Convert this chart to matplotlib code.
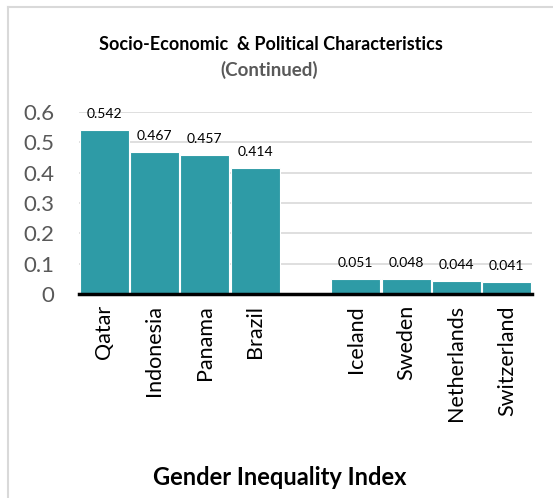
import numpy as np
import matplotlib.pyplot as plt
from matplotlib.lines import Line2D

plt.rcParams['font.family'] = ['Lato', 'DejaVu Sans']

# ── data ──────────────────────────────────────────────────────────────────────
countries = ["Qatar", "Indonesia", "Panama", "Brazil", "",
             "Iceland", "Sweden", "Netherlands", "Switzerland"]
gii = [0.542, 0.467, 0.457, 0.414, None, 0.051, 0.048, 0.044, 0.041]
yticks = [0, 0.1, 0.2, 0.3, 0.4, 0.5, 0.6]

BAR_COLOR = "#2E9BA6"
GRID_COLOR = "#D9D9D9"
TICK_COLOR = "#595959"

fig = plt.figure(figsize=(5.53, 4.98), dpi=100)
ax = fig.add_axes([79 / 553, 204 / 498, 453 / 553, 182 / 498])

x = np.arange(len(countries))
vals = [v if v is not None else 0 for v in gii]
bars = ax.bar(x, vals, width=0.97, color=BAR_COLOR, edgecolor="white", linewidth=0.8, zorder=2)
for xi, v in zip(x, gii):
    if v is None:
        continue
    ax.annotate(f"{v:.3f}", (xi, v), xytext=(0, 11.5), textcoords="offset points",
                ha="center", va="center", fontsize=10, color="black", zorder=3)

ax.set_xlim(-0.5, len(countries) - 0.5)
ax.set_ylim(0, 0.6)
ax.set_yticks(yticks)
ax.set_yticklabels([f"{t:g}" for t in yticks], fontsize=16, color=TICK_COLOR)
ax.set_xticks(x)
ax.set_xticklabels(countries, rotation=90, fontsize=15.5, color="black")
ax.tick_params(axis="y", length=0, pad=18)
ax.tick_params(axis="x", length=0, pad=8)
ax.grid(axis="y", color=GRID_COLOR, linewidth=1.2, zorder=0)
ax.set_axisbelow(True)
for s in ["top", "right", "left"]:
    ax.spines[s].set_visible(False)
ax.spines["bottom"].set_linewidth(2.5)
ax.spines["bottom"].set_color("black")
ax.spines["bottom"].set_zorder(4)

fig.text(271 / 553, 1 - 45 / 498, "Socio-Economic  & Political Characteristics",
         ha="center", va="center", fontsize=13, fontweight="bold", color="black")
fig.text(269 / 553, 1 - 70 / 498, "(Continued)",
         ha="center", va="center", fontsize=13.5, fontweight="bold", color="#595959")
fig.text(280 / 553, 1 - 477 / 498, "Gender Inequality Index",
         ha="center", va="center", fontsize=17, fontweight="bold", color="black")

# chart frame (only top and left edges visible in the crop)
fig.add_artist(Line2D([7.5 / 553, 1], [1 - 7.5 / 498, 1 - 7.5 / 498], transform=fig.transFigure,
                      color=GRID_COLOR, linewidth=1.5))
fig.add_artist(Line2D([7.5 / 553, 7.5 / 553], [0, 1 - 7.5 / 498], transform=fig.transFigure,
                      color=GRID_COLOR, linewidth=1.5))

fig.savefig("out.png", dpi=100)
